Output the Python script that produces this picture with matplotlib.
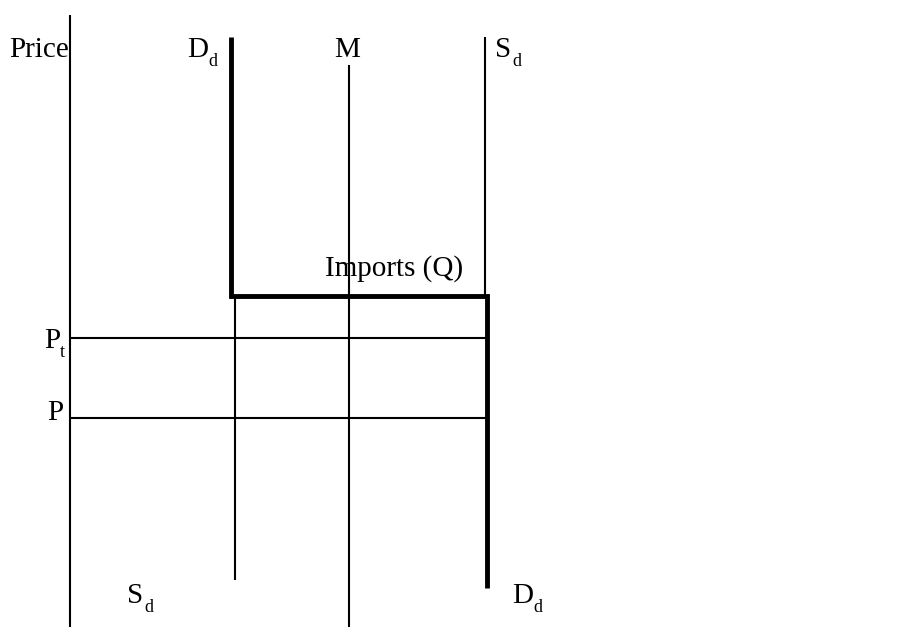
import matplotlib.pyplot as plt

plt.rcParams['font.family'] = ['Liberation Serif', 'DejaVu Serif']

# diagram coordinates (x to the right, y downward, in figure pixels)
price_axis_x = 70
axis_top, axis_bottom = 15, 627

dd_x_upper, dd_x_lower = 231, 487
dd_top, kink_y, dd_bottom = 37, 296, 588

sd_x_upper, sd_x_lower = 485, 235
sd_top, sd_bottom = 37, 580

m_x, m_top = 349, 65

pt_y, p_y = 338, 418

fig = plt.figure(figsize=(9.03, 6.27), dpi=100)
ax = fig.add_axes([0, 0, 1, 1])
ax.set_xlim(0, 903)
ax.set_ylim(627, 0)
ax.axis('off')

thin = dict(color='black', lw=1.5, solid_capstyle='butt')
thick = dict(color='black', lw=3.5, solid_capstyle='butt', solid_joinstyle='miter')

# price axis and M
ax.plot([price_axis_x, price_axis_x], [axis_top, axis_bottom], **thin)
ax.plot([m_x, m_x], [m_top, axis_bottom], **thin)

# supply (thin)
ax.plot([sd_x_upper, sd_x_upper], [sd_top, kink_y], **thin)
ax.plot([sd_x_lower, sd_x_lower], [kink_y, sd_bottom], **thin)

# price lines
ax.plot([price_axis_x, dd_x_lower], [pt_y, pt_y], **thin)
ax.plot([price_axis_x, dd_x_lower], [p_y, p_y], **thin)

# demand (thick, kinked)
ax.plot([dd_x_upper, dd_x_upper, dd_x_lower, dd_x_lower],
        [dd_top, kink_y, kink_y, dd_bottom], **thick)

big, small = 21, 13

def label(x, y, main, sub=None, sub_dx=0):
    ax.text(x, y, main, fontsize=big, ha='left', va='baseline')
    if sub:
        ax.text(x + sub_dx, y + 9, sub, fontsize=small, ha='left', va='baseline')

label(9, 57, 'Price')
label(187, 57, 'D', 'd', 21)
label(334, 57, 'M')
label(495, 57, 'S', 'd', 17)
label(325, 276, 'Imports (Q)')
label(44, 348, 'P', 't', 16)
label(47, 420, 'P')
label(127, 603, 'S', 'd', 17)
label(512, 603, 'D', 'd', 21)

fig.savefig('out.png', dpi=100)
